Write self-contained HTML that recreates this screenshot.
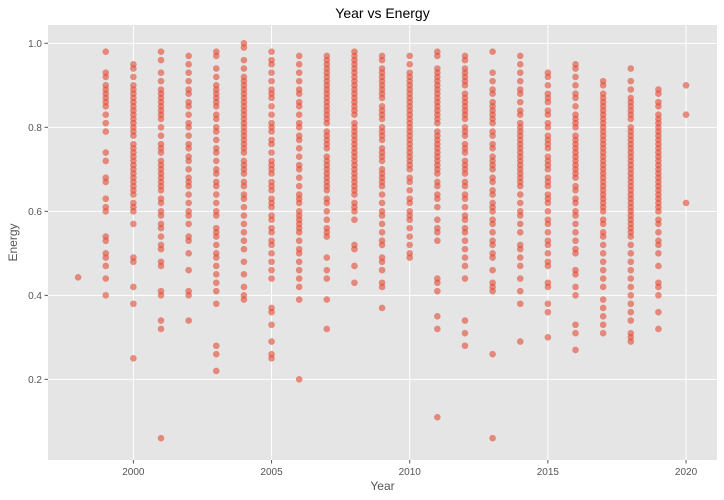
<!DOCTYPE html>
<html><head><meta charset="utf-8"><style>
body{margin:0;background:#fff;font-family:"Liberation Sans","DejaVu Sans",sans-serif}
svg{display:block}
</style></head><body>
<svg id="chart" width="724" height="500"></svg>
<script>
const years=[1998,1999,2000,2001,2002,2003,2004,2005,2006,2007,2008,2009,2010,2011,2012,2013,2014,2015,2016,2017,2018,2019,2020];
const energyByYear=[
[0.443],
[0.98,0.93,0.92,0.90,0.89,0.88,0.87,0.86,0.85,0.83,0.81,0.79,0.74,0.72,0.68,0.67,0.63,0.61,0.60,0.54,0.53,0.50,0.49,0.47,0.44,0.40],
[0.95,0.94,0.92,0.90,0.89,0.88,0.87,0.86,0.85,0.84,0.83,0.82,0.81,0.80,0.79,0.78,0.76,0.75,0.74,0.73,0.72,0.71,0.70,0.69,0.68,0.67,0.66,0.65,0.64,0.62,0.61,0.60,0.57,0.49,0.48,0.42,0.38,0.25],
[0.98,0.96,0.93,0.91,0.89,0.88,0.87,0.86,0.85,0.84,0.83,0.82,0.80,0.78,0.76,0.75,0.74,0.72,0.71,0.70,0.69,0.68,0.67,0.66,0.65,0.63,0.62,0.60,0.59,0.57,0.56,0.54,0.52,0.51,0.48,0.47,0.41,0.40,0.34,0.32,0.06],
[0.97,0.95,0.93,0.91,0.89,0.88,0.86,0.85,0.83,0.81,0.80,0.78,0.76,0.75,0.73,0.72,0.70,0.68,0.67,0.66,0.64,0.62,0.60,0.59,0.57,0.54,0.53,0.50,0.46,0.41,0.40,0.34],
[0.98,0.97,0.94,0.92,0.90,0.89,0.88,0.87,0.86,0.85,0.83,0.82,0.80,0.79,0.77,0.75,0.74,0.72,0.70,0.69,0.67,0.66,0.64,0.62,0.60,0.59,0.56,0.55,0.54,0.52,0.50,0.49,0.47,0.45,0.43,0.41,0.38,0.28,0.26,0.22],
[1.0,0.99,0.96,0.94,0.92,0.91,0.90,0.89,0.88,0.87,0.86,0.85,0.84,0.83,0.82,0.81,0.80,0.79,0.78,0.77,0.76,0.75,0.74,0.72,0.71,0.70,0.69,0.67,0.66,0.64,0.63,0.61,0.59,0.57,0.55,0.53,0.51,0.48,0.45,0.42,0.40,0.39],
[0.98,0.96,0.95,0.93,0.91,0.89,0.88,0.87,0.85,0.83,0.81,0.80,0.79,0.77,0.76,0.74,0.72,0.71,0.70,0.69,0.67,0.66,0.65,0.63,0.62,0.61,0.59,0.58,0.56,0.55,0.53,0.52,0.50,0.48,0.46,0.44,0.37,0.36,0.33,0.29,0.26,0.25],
[0.97,0.95,0.93,0.91,0.89,0.88,0.86,0.85,0.83,0.81,0.80,0.78,0.77,0.75,0.73,0.71,0.70,0.68,0.66,0.64,0.63,0.62,0.60,0.59,0.58,0.57,0.56,0.55,0.53,0.51,0.50,0.48,0.46,0.44,0.42,0.39,0.20],
[0.97,0.96,0.95,0.94,0.93,0.92,0.91,0.90,0.89,0.88,0.87,0.86,0.85,0.84,0.83,0.82,0.81,0.79,0.78,0.77,0.76,0.75,0.73,0.72,0.71,0.70,0.69,0.68,0.67,0.66,0.65,0.63,0.62,0.60,0.58,0.56,0.55,0.54,0.49,0.46,0.44,0.39,0.32],
[0.98,0.97,0.96,0.95,0.94,0.93,0.92,0.91,0.90,0.89,0.88,0.87,0.86,0.85,0.84,0.83,0.81,0.80,0.79,0.78,0.77,0.76,0.75,0.74,0.73,0.72,0.71,0.70,0.69,0.68,0.67,0.66,0.65,0.64,0.62,0.61,0.60,0.58,0.52,0.51,0.47,0.43],
[0.97,0.96,0.94,0.93,0.92,0.91,0.90,0.89,0.88,0.87,0.85,0.84,0.83,0.82,0.80,0.79,0.78,0.77,0.75,0.74,0.73,0.72,0.70,0.69,0.68,0.67,0.66,0.64,0.62,0.60,0.59,0.57,0.55,0.53,0.52,0.49,0.48,0.46,0.43,0.42,0.37],
[0.97,0.95,0.93,0.92,0.91,0.90,0.89,0.88,0.87,0.86,0.85,0.84,0.83,0.82,0.81,0.80,0.79,0.78,0.77,0.76,0.75,0.74,0.73,0.72,0.71,0.70,0.68,0.67,0.65,0.63,0.62,0.60,0.59,0.58,0.56,0.54,0.52,0.50,0.49],
[0.98,0.97,0.94,0.93,0.92,0.91,0.90,0.89,0.88,0.87,0.86,0.85,0.84,0.83,0.82,0.81,0.79,0.78,0.77,0.76,0.75,0.74,0.73,0.72,0.71,0.70,0.69,0.67,0.66,0.64,0.63,0.61,0.58,0.56,0.55,0.53,0.44,0.43,0.41,0.35,0.32,0.11],
[0.97,0.96,0.94,0.93,0.92,0.91,0.90,0.88,0.87,0.86,0.85,0.84,0.83,0.82,0.80,0.79,0.78,0.76,0.75,0.74,0.72,0.71,0.70,0.69,0.67,0.66,0.64,0.63,0.61,0.59,0.58,0.56,0.55,0.53,0.51,0.49,0.47,0.44,0.34,0.31,0.28],
[0.98,0.93,0.91,0.89,0.88,0.86,0.85,0.84,0.83,0.82,0.81,0.79,0.78,0.76,0.75,0.73,0.72,0.71,0.70,0.68,0.67,0.65,0.64,0.62,0.61,0.60,0.58,0.57,0.55,0.53,0.52,0.50,0.49,0.46,0.43,0.42,0.41,0.26,0.06],
[0.97,0.95,0.93,0.91,0.89,0.88,0.86,0.84,0.83,0.81,0.80,0.79,0.78,0.77,0.76,0.75,0.74,0.73,0.72,0.71,0.70,0.69,0.68,0.67,0.66,0.64,0.62,0.60,0.59,0.57,0.55,0.52,0.51,0.49,0.47,0.44,0.41,0.38,0.29],
[0.93,0.92,0.90,0.88,0.87,0.86,0.84,0.83,0.81,0.80,0.78,0.77,0.76,0.75,0.73,0.72,0.71,0.70,0.68,0.67,0.66,0.64,0.63,0.62,0.60,0.58,0.57,0.55,0.53,0.52,0.50,0.48,0.47,0.43,0.42,0.38,0.36,0.30],
[0.95,0.94,0.92,0.90,0.88,0.87,0.85,0.83,0.82,0.81,0.80,0.78,0.77,0.76,0.75,0.74,0.73,0.72,0.71,0.70,0.69,0.68,0.66,0.65,0.63,0.62,0.60,0.59,0.57,0.55,0.53,0.51,0.50,0.46,0.45,0.42,0.40,0.33,0.31,0.27],
[0.91,0.90,0.88,0.87,0.86,0.85,0.84,0.83,0.82,0.81,0.80,0.79,0.78,0.77,0.76,0.75,0.74,0.73,0.72,0.71,0.70,0.69,0.68,0.67,0.66,0.65,0.64,0.63,0.62,0.61,0.60,0.58,0.57,0.55,0.54,0.52,0.50,0.48,0.46,0.44,0.42,0.39,0.37,0.35,0.33,0.31],
[0.94,0.91,0.89,0.87,0.86,0.85,0.84,0.83,0.82,0.80,0.79,0.78,0.77,0.76,0.75,0.74,0.73,0.72,0.71,0.70,0.69,0.68,0.67,0.66,0.65,0.64,0.63,0.62,0.61,0.60,0.59,0.58,0.57,0.56,0.55,0.54,0.52,0.50,0.48,0.46,0.44,0.42,0.40,0.38,0.36,0.34,0.31,0.30,0.29],
[0.89,0.88,0.86,0.85,0.83,0.82,0.81,0.80,0.79,0.78,0.77,0.76,0.75,0.74,0.73,0.72,0.71,0.70,0.69,0.68,0.67,0.66,0.65,0.64,0.63,0.62,0.61,0.60,0.58,0.57,0.55,0.53,0.52,0.50,0.47,0.43,0.42,0.40,0.36,0.32],
[0.90,0.83,0.62]
];
const xTicks=[2000,2005,2010,2015,2020];
const yTicks=[0.2,0.4,0.6,0.8,1.0];

const NS='http://www.w3.org/2000/svg';
const svg=document.getElementById('chart');
const L=48,R=717,T=25,B=460;
const xMin=1996.91,xMax=2021.12,yMin=0.008,yMax=1.0436;
const xs=v=>L+(v-xMin)/(xMax-xMin)*(R-L);
const ys=v=>B-(v-yMin)/(yMax-yMin)*(B-T);
function mk(tag,attrs,parent){const e=document.createElementNS(NS,tag);for(const k in attrs)e.setAttribute(k,attrs[k]);(parent||svg).appendChild(e);return e;}

const bg=mk('rect',{x:L,y:T,width:R-L,height:B-T,fill:'#E5E5E5'});



const grid=mk('g',{});


const axes=mk('g',{fill:'#555','font-size':'10'});


xTicks.forEach(t=>{
  const x=xs(t);
  const gl=mk('line',{x1:x,x2:x,y1:T,y2:B,stroke:'#fff','stroke-width':1},grid);
  
  
  mk('line',{x1:x,x2:x,y1:B,y2:B+3.5,stroke:'#555'},axes);
  const tx=mk('text',{x:x,y:B+15,'text-anchor':'middle'},axes);
  tx.textContent=t;
  
  
});
yTicks.forEach(t=>{
  const y=ys(t);
  const gl=mk('line',{x1:L,x2:R,y1:y,y2:y,stroke:'#fff','stroke-width':1},grid);
  
  
  mk('line',{x1:L-3.5,x2:L,y1:y,y2:y,stroke:'#555'},axes);
  const tx=mk('text',{x:L-6,y:y+3.5,'text-anchor':'end'},axes);
  tx.textContent=t.toFixed(1);
  
  
});

const pts=mk('g',{fill:'#E24A33','fill-opacity':0.6});


years.forEach((yr,i)=>{
  energyByYear[i].forEach(v=>{
    const c=mk('circle',{cx:xs(yr),cy:ys(v),r:3.3},pts);
    
    
  });
});

const title=mk('text',{x:(L+R)/2,y:18,'text-anchor':'middle','font-size':'14',fill:'#000'});
title.textContent='Year vs Energy';


const xl=mk('text',{x:(L+R)/2,y:490,'text-anchor':'middle','font-size':'12',fill:'#555'});
xl.textContent='Year';


const yl=mk('text',{x:0,y:0,'text-anchor':'middle','font-size':'12',fill:'#555',transform:`translate(17,${(T+B)/2}) rotate(-90)`});
yl.textContent='Energy';


</script>
</body></html>
